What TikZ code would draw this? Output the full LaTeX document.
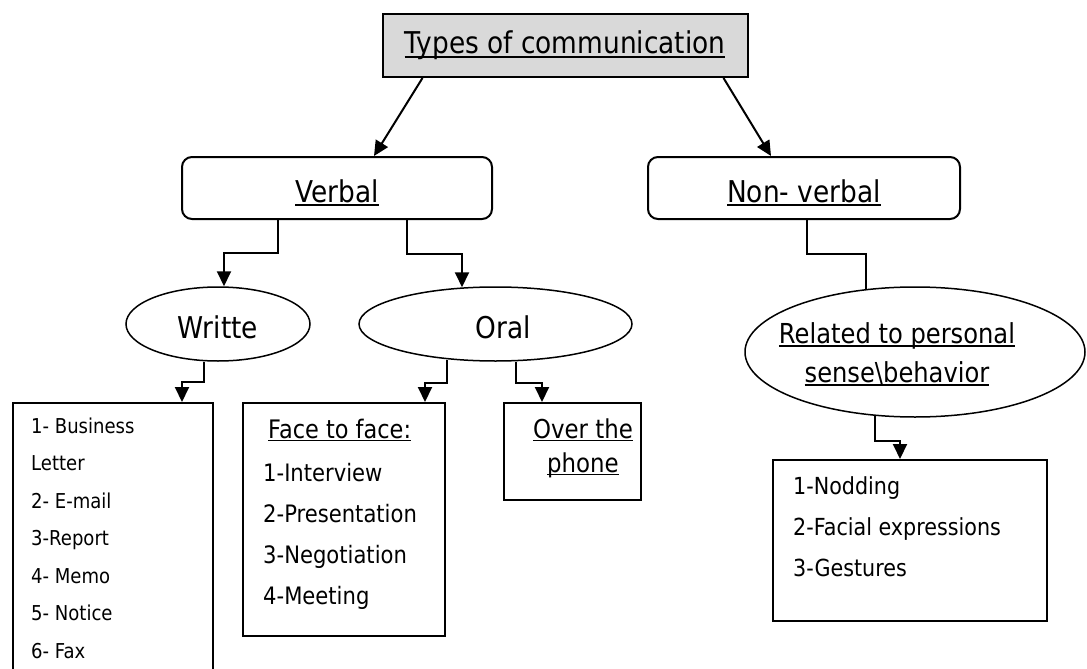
\documentclass[tikz,border=0pt]{standalone}
\usepackage{fontspec}
\setmainfont{DejaVu Sans}[FakeStretch=0.88]
\usetikzlibrary{arrows.meta,shapes.geometric}
\definecolor{titlegray}{RGB}{217,217,217}
\newcommand\ulx[1]{\setbox0\hbox{#1}\rlap{\rule[-0.13em]{\wd0}{0.065em}}\box0}
\begin{document}
\begin{tikzpicture}[x=1pt,y=-1pt,
  conn/.style={line width=2pt},
  arr/.style={line width=2pt,-{Triangle[length=15pt,width=14pt]}},
  box/.style={draw,line width=2pt,inner sep=0pt},
  oval/.style={draw,ellipse,line width=1.5pt,inner sep=0pt},
  main/.style={font=\fontsize{30}{36}\selectfont,text height=30pt,text depth=2pt},
  listtext/.style={anchor=base west,inner sep=0pt}]
\useasboundingbox (0,0) rectangle (1087,669);

% top
\node[box,fill=titlegray,minimum width=365pt,minimum height=63pt,
      font=\fontsize{30}{36}\selectfont,text height=22pt,text depth=5pt] (title) at (565,45.5) {\ulx{Types of communication}};

% second level
\node[box,rounded corners=10pt,minimum width=310pt,minimum height=62pt,main] (verbal) at (337,188) {\ulx{Verbal}};
\node[box,rounded corners=10pt,minimum width=312pt,minimum height=62pt,main] (nonverbal) at (804,188) {\ulx{Non- verbal}};

% ellipses
\node[oval,minimum width=184pt,minimum height=74pt,main] (writte) at (218,324) {Writte};
\node[oval,minimum width=273pt,minimum height=74pt,main] (oral) at (495.5,324) {\hspace*{16pt}Oral};
\node[oval,minimum width=340pt,minimum height=130pt] (related) at (915,352) {};
\node[anchor=base,inner sep=0pt,font=\fontsize{27.5}{39}\selectfont] (reltext) at (897,343)
  {\begin{tabular}[t]{@{}c@{}}\ulx{Related to personal}\\\ulx{sense\textbackslash behavior}\end{tabular}};

% boxes
\node[box,anchor=north west,minimum width=200pt,minimum height=300pt] (writlist) at (12,402) {};
\node[listtext,font=\fontsize{20.5}{37.5}\selectfont] (writtxt) at (31,433)
  {\begin{tabular}[t]{@{}l@{}}1- Business\\Letter\\2- E-mail\\3-Report\\4- Memo\\5- Notice\\6- Fax\end{tabular}};

\node[box,anchor=north west,minimum width=202pt,minimum height=233pt] (face) at (242,402) {};
\node[listtext,font=\fontsize{24}{41}\selectfont] (facetxt) at (263,438)
  {\begin{tabular}[t]{@{}l@{}}\hspace*{5pt}{\fontsize{25.5}{41}\selectfont\ulx{Face to face:}}\\[2pt]1-Interview\\2-Presentation\\3-Negotiation\\4-Meeting\end{tabular}};

\node[box,anchor=north west,minimum width=137pt,minimum height=97pt] (phone) at (503,402) {};
\node[anchor=base,inner sep=0pt,font=\fontsize{26}{34}\selectfont] (phonetxt) at (583,438)
  {\begin{tabular}[t]{@{}c@{}}\ulx{Over the}\\\ulx{phone}\end{tabular}};

\node[box,anchor=north west,minimum width=274pt,minimum height=161pt] (nodbox) at (772,459) {};
\node[listtext,font=\fontsize{23.5}{41}\selectfont] (nodtxt) at (793,494)
  {\begin{tabular}[t]{@{}l@{}}1-Nodding\\2-Facial expressions\\3-Gestures\end{tabular}};

% connectors
\draw[arr] ([xshift=41pt]title.south west) -- ([xshift=193pt]verbal.north west);
\draw[arr] ([xshift=-25pt]title.south east) -- ([xshift=124pt]nonverbal.north west);
\draw[arr] ([xshift=97pt]verbal.south west) -- ++(0,33) -| ([xshift=6pt]writte.north);
\draw[arr] ([xshift=226pt]verbal.south west) -- ++(0,34) -| ([xshift=-33.5pt,yshift=-1pt]oral.north);
\draw[arr] ([xshift=-14pt]writte.south) -- ++(0,20) -| ([xshift=170pt]writlist.north west);
\draw[arr] ([xshift=-48.5pt,yshift=2pt]oral.south) -- ++(0,23) -| ([xshift=183pt]face.north west);
\draw[arr] ([xshift=20.5pt]oral.south) -- ++(0,21) -| ([xshift=39pt]phone.north west);
\draw[conn] ([xshift=160pt]nonverbal.south west) -- ++(0,34) -| ([xshift=-49pt,yshift=-3pt]related.north);
\draw[arr] ([xshift=-40pt,yshift=2pt]related.south) -- ++(0,25) -| ([xshift=128pt]nodbox.north west);
\end{tikzpicture}
\end{document}
